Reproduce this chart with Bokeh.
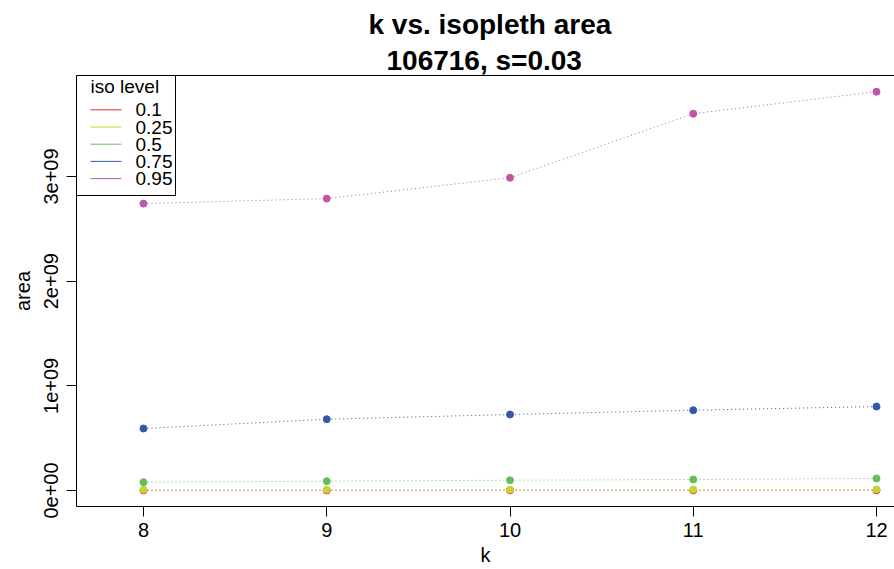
from bokeh.plotting import figure
from bokeh.models import FixedTicker, Title, Range1d, LinearAxis, ColumnDataSource
from bokeh.core.properties import value
from bokeh.embed import file_html
from bokeh.resources import INLINE

# ---- data -------------------------------------------------------------
k_values = [8, 9, 10, 11, 12]
iso_levels = ["0.1", "0.25", "0.5", "0.75", "0.95"]
area_010 = [1.0e6, 1.1e6, 1.2e6, 1.3e6, 1.4e6]
area_025 = [7.0e6, 7.5e6, 8.0e6, 8.5e6, 9.0e6]
area_050 = [0.079e9, 0.089e9, 0.098e9, 0.105e9, 0.115e9]
area_075 = [0.592e9, 0.681e9, 0.726e9, 0.767e9, 0.802e9]
area_095 = [2.741e9, 2.789e9, 2.988e9, 3.600e9, 3.810e9]
series = [area_010, area_025, area_050, area_075, area_095]
colors = ["#E3292E", "#C2D530", "#66BD5C", "#3559A8", "#C155A9"]

y_ticks = [0, 1e9, 2e9, 3e9]
y_tick_labels = ["0e+00", "1e+09", "2e+09", "3e+09"]
x_ticks = [8, 9, 10, 11, 12]

FONT = "Liberation Sans"

# ---- layout -----------------------------------------------------------
W, H = 894, 569
BL, BR, BT, BB = 76, 0, 75, 63
X0, X1 = 7.6344, 12.0982
Y0, Y1 = -0.1529e9, 3.965e9
FW, FH = W - BL - BR, H - BT - BB


def px_x(px):
    """canvas pixel column -> x data value (for the legend layout)"""
    return X0 + (px - BL) * (X1 - X0) / FW


def px_y(py):
    """canvas pixel row -> y data value (for the legend layout)"""
    return Y1 - (py - BT) * (Y1 - Y0) / FH


p = figure(width=W, height=H, output_backend="svg", toolbar_location=None,
           x_range=Range1d(X0, X1), y_range=Range1d(Y0, Y1),
           min_border_left=BL, min_border_right=BR, min_border_top=BT,
           min_border_bottom=BB, x_axis_location=None, y_axis_location=None)
p.background_fill_color = "white"
p.border_fill_color = "white"
p.outline_line_color = None
p.grid.visible = False
p.title.visible = False

xaxis = LinearAxis(axis_label="k", ticker=FixedTicker(ticks=x_ticks))
yaxis = LinearAxis(axis_label="area", ticker=FixedTicker(ticks=y_ticks),
                   major_label_overrides={t: l for t, l in zip(y_ticks, y_tick_labels)})
for ax in (xaxis, yaxis):
    ax.axis_line_color = "black"
    ax.axis_line_width = 1
    ax.major_tick_line_color = "black"
    ax.major_tick_out = 10
    ax.major_tick_in = 0
    ax.minor_tick_line_color = None
    ax.major_label_text_font = FONT
    ax.major_label_text_font_size = "20px"
    ax.major_label_text_color = "black"
    ax.axis_label_text_font = FONT
    ax.axis_label_text_font_size = "20px"
    ax.axis_label_text_font_style = "normal"
    ax.axis_label_text_color = "black"
xaxis.major_label_standoff = 6
xaxis.axis_label_standoff = 4
yaxis.major_label_orientation = "vertical"
yaxis.major_label_standoff = 8
yaxis.axis_label_standoff = 8
p.add_layout(xaxis, "below")
p.add_layout(yaxis, "left")

top_axis = LinearAxis(ticker=FixedTicker(ticks=[]), major_tick_out=0,
                      major_tick_in=0, minor_tick_out=0, minor_tick_in=0,
                      major_label_text_font_size="0px", major_label_standoff=0,
                      axis_line_color="black", axis_line_width=1)
p.add_layout(top_axis, "above")

t2 = Title(text="106716, s=0.03", align="left", text_font=FONT,
           text_font_size="28px", text_font_style="bold", text_color="black",
           standoff=0, offset=310)
t1 = Title(text="k vs. isopleth area", align="left", text_font=FONT,
           text_font_size="28px", text_font_style="bold", text_color="black",
           standoff=5, offset=292)
p.add_layout(t2, "above")
p.add_layout(t1, "above")

for lvl, ys, c in zip(iso_levels, series, colors):
    p.line(k_values, ys, line_color=c, line_width=1, line_dash="1 3")
    p.scatter(k_values, ys, size=7, fill_color=c, line_color=c)

# ---- legend (R style box in the top-left corner) -----------------------
LEG_BOX = (76, 175, 75, 195)          # left, right, top, bottom (px)
LEG_KEY_X = (90, 121)
LEG_LABEL_X = 135
LEG_TITLE_Y = 86
LEG_ROW_Y0, LEG_ROW_DY = 109.3, 17.2

p.quad(left=[px_x(LEG_BOX[0])], right=[px_x(LEG_BOX[1])],
       top=[px_y(LEG_BOX[2])], bottom=[px_y(LEG_BOX[3])],
       fill_color="white", line_color="black", line_width=1)
p.text(x=[px_x(LEG_KEY_X[0])], y=[px_y(LEG_TITLE_Y)], text=["iso level"],
       text_font=value(FONT), text_font_size="19px", text_color="black",
       text_align="left", text_baseline="middle")
rows_y = [px_y(LEG_ROW_Y0 + i * LEG_ROW_DY) for i in range(len(iso_levels))]
leg_src = ColumnDataSource(dict(
    x0=[px_x(LEG_KEY_X[0])] * len(iso_levels),
    x1=[px_x(LEG_KEY_X[1])] * len(iso_levels),
    xl=[px_x(LEG_LABEL_X)] * len(iso_levels),
    y=rows_y, label=iso_levels, color=colors))
p.segment(x0="x0", y0="y", x1="x1", y1="y", line_color="color",
          line_width=1, source=leg_src)
p.text(x="xl", y="y", text="label", text_font=value(FONT),
       text_font_size="19px", text_color="black", text_align="left",
       text_baseline="middle", source=leg_src)

open("out.html", "w").write(file_html(p, INLINE))
